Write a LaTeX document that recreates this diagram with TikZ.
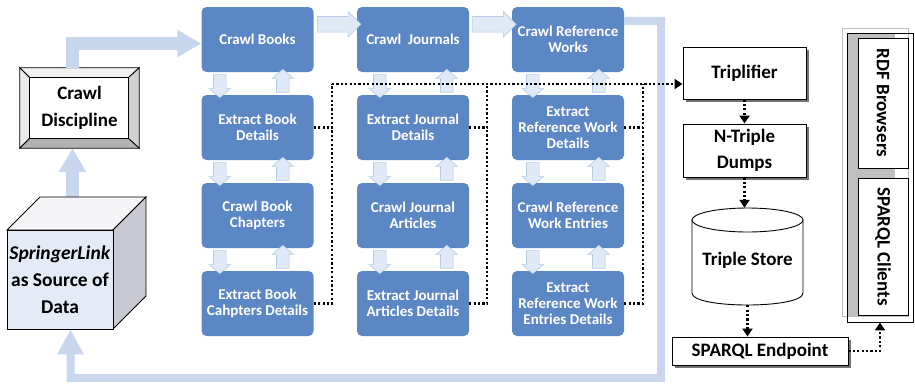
\documentclass[tikz,border=0pt]{standalone}
\usepackage{fontspec}
\setmainfont{Carlito}
\usetikzlibrary{arrows.meta,shapes.arrows,shadows,calc}
\definecolor{boxblue}{RGB}{91,135,197}
\definecolor{arrbig}{RGB}{200,215,237}
\definecolor{arrfill}{RGB}{224,233,246}
\definecolor{arredge}{RGB}{184,202,230}
\definecolor{cubefront}{RGB}{228,235,247}
\definecolor{cubetop}{RGB}{245,245,247}
\definecolor{cubeside}{RGB}{200,201,210}
\begin{document}
\begin{tikzpicture}[x=1pt,y=-1pt,
  blue/.style={rectangle, rounded corners=5pt, fill=boxblue, text=white,
    minimum width=112pt, minimum height=65pt, inner sep=1pt, align=center,
    font=\fontsize{15}{16}\selectfont\bfseries},
  wbox/.style={draw=black, line width=0.9pt, fill=white, align=center,
    font=\fontsize{19}{26}\selectfont\bfseries,
    drop shadow={shadow xshift=3pt, shadow yshift=-3pt, fill=black!55, opacity=1}},
  sarr/.style={single arrow, draw=arredge, fill=arrfill, line width=0.6pt,
    inner xsep=0pt, inner ysep=6pt, minimum height=23pt, minimum width=0pt,
    single arrow head extend=4.5pt, single arrow head indent=0pt,
    single arrow tip angle=100},
  sarrh/.style={sarr, minimum height=43.5pt, inner ysep=7.5pt,
    single arrow head extend=5pt, single arrow tip angle=90},
  bigarr/.style={draw=arrbig, line width=13pt, -{Triangle[width=26pt,length=24pt]}},
  looparr/.style={draw=arrbig, line width=8pt, line join=miter,
    -{Triangle[width=25pt,length=25pt]}},
  dots/.style={line width=2.2pt, dash pattern=on 2.2pt off 2.2pt},
  dotarr/.style={dots, -{Triangle[length=8pt,width=10pt]}}
]
\useasboundingbox (0,0) rectangle (915,383);

% ---------- blue process boxes ----------
\node[blue] (cb)   at (257.5,39.5)  {Crawl Books};
\node[blue] (cj)   at (413,39.5)    {Crawl~~Journals};
\node[blue] (cr)   at (568,39.5)    {Crawl Reference\\Works};
\node[blue] (ebd)  at (257.5,127.5) {Extract Book\\Details};
\node[blue] (ejd)  at (413,127.5)   {Extract Journal\\Details};
\node[blue] (erd)  at (568,127.5)   {Extract\\Reference Work\\Details};
\node[blue] (cbc)  at (257.5,215.5) {Crawl Book\\Chapters};
\node[blue] (cja)  at (413,215.5)   {Crawl Journal\\Articles};
\node[blue] (crw)  at (568,215.5)   {Crawl Reference\\Work Entries};
\node[blue] (ebcd) at (257.5,303.5) {Extract Book\\Cahpters Details};
\node[blue] (ejad) at (413,303.5)   {Extract Journal\\Articles Details};
\node[blue] (ered) at (568,303.5)   {Extract\\Reference Work\\Entries Details};

% ---------- small block arrows between boxes ----------
\newcommand\vpair[4]{%
  \node[sarr, rotate=-90] (#1-#2-dn) at ($(#1.south west)!0.5!(#2.north west)+(#3,0)$) {};
  \node[sarr, rotate=90]  (#1-#2-up) at ($(#1.south west)!0.5!(#2.north west)+(#4,0)$) {};
}
\vpair{cb}{ebd}{18.5}{81.5}
\vpair{ebd}{cbc}{18.5}{81.5}
\vpair{cbc}{ebcd}{18.5}{81.5}
\vpair{cj}{ejd}{23}{90}
\vpair{ejd}{cja}{23}{90}
\vpair{cja}{ejad}{23}{90}
\vpair{cr}{erd}{21}{87}
\vpair{erd}{crw}{21}{87}
\vpair{crw}{ered}{21}{87}
\node[sarrh] (cb-cj) at ($(cb.north east)!0.5!(cj.north west)+(0,17.5)$) {};
\node[sarrh] (cj-cr) at ($(cj.north east)!0.5!(cr.north west)+(0,17.5)$) {};

% ---------- Crawl Discipline (bevelled button) ----------
\node[minimum width=119pt, minimum height=80pt, align=center,
      font=\fontsize{19}{27}\selectfont\bfseries] (cd) at (79.5,108) {Crawl\\Discipline};
\begin{scope}[line width=0.8pt, draw=black]
  \coordinate (o1) at (cd.north west); \coordinate (o2) at (cd.north east);
  \coordinate (o3) at (cd.south east); \coordinate (o4) at (cd.south west);
  \coordinate (i1) at ($(cd.north west)+(10,10)$); \coordinate (i2) at ($(cd.north east)+(-11,10)$);
  \coordinate (i3) at ($(cd.south east)+(-11,-10)$); \coordinate (i4) at ($(cd.south west)+(10,-10)$);
  \filldraw[fill=black!5]  (o1) -- (o2) -- (i2) -- (i1) -- cycle;
  \filldraw[fill=black!8]  (o1) -- (i1) -- (i4) -- (o4) -- cycle;
  \filldraw[fill=black!18] (o2) -- (o3) -- (i3) -- (i2) -- cycle;
  \filldraw[fill=black!30] (o4) -- (i4) -- (i3) -- (o3) -- cycle;
  \filldraw[fill=white] (i1) rectangle (i3);
\end{scope}
\node[align=center, font=\fontsize{19}{27}\selectfont\bfseries] (cdt) at (cd.center) {Crawl\\Discipline};

% ---------- big light arrows ----------
\coordinate (sup) at (72.5,205);
\draw[bigarr] (sup) -- (sup |- cd.south);
\draw[bigarr] ($(cd.north)+(-7,0)$) |- ($(cb.west)+(0,4)$);

% ---------- SpringerLink cube ----------
\filldraw[line width=0.8pt, fill=cubetop] (7,230) -- (40,197) -- (146,197) -- (113,230) -- cycle;
\filldraw[line width=0.8pt, fill=cubeside] (113,230) -- (146,197) -- (146,296) -- (113,329) -- cycle;
\node[draw, line width=0.8pt, fill=cubefront, minimum width=106pt, minimum height=99pt,
      inner sep=0pt, align=center, font=\fontsize{19.5}{27}\selectfont\bfseries]
      (src) at (60,279.5) {\textit{SpringerLink}\\as Source of\\Data};

% ---------- feedback loop ----------
\coordinate (l1) at (661,21);
\coordinate (l2) at (661,378);
\coordinate (l3) at (70.5,378);
\draw[looparr] ($(cr.north east)+(0,14)$) -- (l1) -- (l2) -- (l3) -- (l3 |- src.south);

% ---------- right side ----------
\node[wbox, minimum width=123pt, minimum height=52pt] (trip) at (744.5,73) {Triplifier};
\node[wbox, minimum width=123pt, minimum height=53pt] (ntd) at (744.5,150.5) {N-Triple\\Dumps};
\node[minimum width=111pt, minimum height=97pt, inner sep=0pt,
      font=\fontsize{19}{26}\selectfont\bfseries] (ts) at (747.5,256.5) {};
\filldraw[line width=0.9pt, fill=white] (692,220) -- (692,293)
   .. controls (692,309) and (803,309) .. (803,293) -- (803,220);
\filldraw[line width=0.9pt, fill=white] (747.5,220) ellipse[x radius=55.5, y radius=12];
\node[font=\fontsize{19}{26}\selectfont\bfseries] (tst) at ($(ts.center)+(0,4)$) {Triple Store};
\node[wbox, minimum width=176pt, minimum height=28pt, inner sep=0pt] (spe) at (760,351) {SPARQL Endpoint};

% clients panel
\draw[black!25, line width=0.6pt] (842,28) rectangle (908,316);
\node[draw, line width=0.9pt, minimum width=66pt, minimum height=289pt] (cli) at (880,177.5) {};
\fill[black!25] (848,34) rectangle (895,316);
\node[draw, line width=0.9pt, fill=white, rotate=-90, minimum width=130pt, minimum height=50pt,
      inner sep=0pt, font=\fontsize{19}{26}\selectfont\bfseries] (rdf) at (883,103) {RDF Browsers};
\node[draw, line width=0.9pt, fill=white, rotate=-90, minimum width=137pt, minimum height=50pt,
      inner sep=0pt, font=\fontsize{19}{26}\selectfont\bfseries] (spc) at (883,246.5) {SPARQL Clients};

% ---------- dotted connectors ----------
\coordinate (d1) at (332,84);
\coordinate (d2) at (487,84);
\coordinate (d3) at (643,84);
\draw[dots] (ebd.east) -| (d1);
\draw[dots] (ebcd.east) -| (d1);
\draw[dots] (ejd.east) -| (d2);
\draw[dots] (ejad.east) -| (d2);
\draw[dots] (erd.east) -| (d3);
\draw[dots] (ered.east) -| (d3);
\draw[dotarr] (d1) -- (d1 -| trip.west);
\draw[dotarr] (trip.south) -- (ntd.north);
\draw[dotarr] (ntd.south) -- (ntd.south |- ts.north);
\draw[dotarr] (ts.south) -- (ts.south |- spe.north);
\draw[dotarr] (spe.east) -| (cli.south);
\end{tikzpicture}
\end{document}
